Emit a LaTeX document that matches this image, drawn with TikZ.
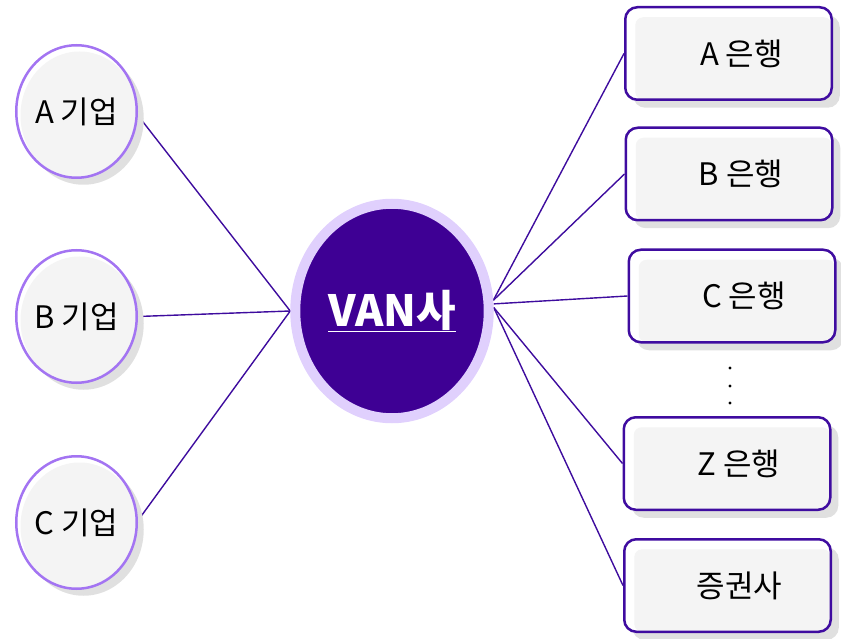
\documentclass[tikz,border=0pt]{standalone}
\usepackage{fontspec}
\setmainfont{Noto Sans CJK KR}
\usetikzlibrary{shapes.geometric,shadows,backgrounds}
\definecolor{ringc}{HTML}{A374F2}
\definecolor{boxb}{HTML}{3F0CA0}
\definecolor{linec}{HTML}{3E0C9E}
\definecolor{vanfill}{HTML}{3E0094}
\definecolor{vanring}{HTML}{E0D0FD}
\definecolor{shad}{HTML}{E0E0E0}
\definecolor{innerc}{HTML}{F4F4F4}
\tikzset{
  firm/.style={ellipse, minimum width=120.5pt, minimum height=132.5pt, inner sep=0pt,
    draw=ringc, line width=2.5pt, fill=white,
    font=\fontsize{31}{36}\selectfont,
    path picture={\fill[innerc] ([xshift=3pt,yshift=-4pt]path picture bounding box.center) ellipse (59pt and 64pt);},
    drop shadow={shadow xshift=7pt, shadow yshift=-7pt, fill=shad, opacity=1}},
  bank/.style={rectangle, rounded corners=12pt, minimum width=206.5pt, minimum height=92.5pt,
    draw=boxb, line width=2.5pt, fill=white, inner sep=0pt,
    path picture={\fill[innerc, rounded corners=8pt] ([xshift=10pt,yshift=-10pt]path picture bounding box.north west) rectangle (path picture bounding box.south east);},
    drop shadow={shadow xshift=8pt, shadow yshift=-8pt, fill=shad, opacity=1}},
  banktext/.style={font=\fontsize{31}{36}\selectfont, inner sep=0pt},
  van/.style={ellipse, minimum width=193.5pt, minimum height=214.5pt, inner sep=0pt,
    draw=vanring, line width=10pt, fill=vanfill, text=white,
    font=\fontsize{43}{48}\selectfont\bfseries},
  conn/.style={draw=linec, line width=1.4pt},
  dot/.style={circle, fill=black, inner sep=0pt, minimum size=3.2pt}
}
\begin{document}
\begin{tikzpicture}[x=1pt, y=-1pt]
\useasboundingbox (0,0) rectangle (841,639);
\node[firm] (fa) at (76.5,111.5) {A 기업};
\node[firm] (fb) at (76.5,316.5) {B 기업};
\node[firm] (fc) at (76.5,522.5) {C 기업};
\node[van] (van) at (392,311) {\underline{VAN사}};
\node[bank, label={[banktext, xshift=13pt]center:A 은행}] (ba) at (728.5,53.5) {};
\node[bank, label={[banktext, xshift=12pt]center:B 은행}] (bb) at (729,174) {};
\node[bank, label={[banktext, xshift=12pt]center:C 은행}] (bc) at (732,296) {};
\node[bank, label={[banktext, xshift=12pt]center:Z 은행}] (bz) at (727,463.5) {};
\node[bank, label={[banktext, xshift=12pt]center:증권사}] (bs) at (727.5,585.5) {};
\node[dot] (d1) at (730,368) {};
\node[dot] (d2) at (730,386) {};
\node[dot] (d3) at (730,403) {};
\begin{pgfonlayer}{background}
\draw[conn] ([yshift=-4pt]fa.east) -- (van.west);
\draw[conn] (fb.east) -- (van.west);
\draw[conn] ([yshift=2pt]fc.east) -- (van.west);
\draw[conn] (van.6) -- (ba.west);
\draw[conn] (van.6) -- (bb.west);
\draw[conn] (van.4) -- (bc.west);
\draw[conn] (van.2) -- (bz.west);
\draw[conn] (van.2) -- (bs.west);
\end{pgfonlayer}
\end{tikzpicture}
\end{document}
